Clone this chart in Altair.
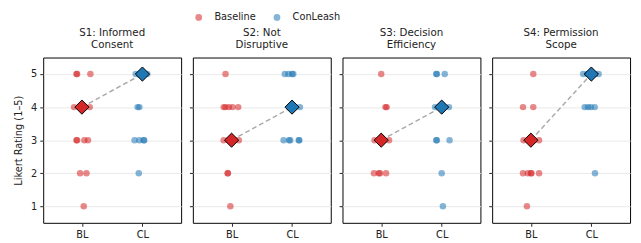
import altair as alt
import pandas as pd

groups = ["Baseline", "ConLeash"]
colors = ["#d62728", "#1f77b4"]
titles = [["S1: Informed", "Consent"], ["S2: Not", "Disruptive"],
          ["S3: Decision", "Efficiency"], ["S4: Permission", "Scope"]]

# ratings and horizontal jitter
s1_bl_r = [5, 5, 5, 4, 4, 4, 4, 3, 3, 3, 3, 2, 2, 1]
s1_bl_j = [-0.09, -0.08, 0.14, -0.13, -0.04, 0.05, 0.13, -0.09, -0.08, 0.04, 0.10, -0.03, 0.075, 0.03]
s1_cl_r = [5, 5, 5, 5, 5, 5, 4, 4, 3, 3, 3, 3, 2]
s1_cl_j = [-0.11, -0.05, 0.0, 0.04, 0.08, -0.02, -0.08, -0.05, -0.13, -0.05, 0.02, 0.03, -0.06]

s2_bl_r = [5, 4, 4, 4, 4, 4, 3, 3, 3, 3, 2, 2, 1]
s2_bl_j = [-0.10, -0.13, -0.10, -0.045, 0.015, 0.11, -0.13, -0.05, 0.05, 0.12, -0.065, -0.06, -0.02]
s2_cl_r = [5, 5, 5, 5, 4, 4, 4, 3, 3, 3, 3, 3]
s2_cl_j = [-0.12, -0.06, 0.0, 0.02, 0.0, 0.05, 0.13, -0.14, -0.05, -0.03, 0.11, 0.12]

s3_bl_r = [5, 4, 4, 3, 3, 3, 3, 2, 2, 2, 2]
s3_bl_j = [0.0, 0.07, 0.09, -0.11, -0.04, 0.04, 0.13, -0.12, -0.04, -0.02, 0.08]
s3_cl_r = [5, 5, 5, 4, 4, 4, 4, 3, 3, 3, 2, 1]
s3_cl_j = [-0.09, -0.08, 0.05, -0.11, -0.03, 0.03, 0.12, -0.09, -0.08, 0.13, 0.0, 0.02]

s4_bl_r = [5, 4, 4, 3, 3, 3, 3, 2, 2, 2, 2, 2, 1]
s4_bl_j = [0.04, -0.13, 0.04, -0.12, -0.04, 0.05, 0.135, -0.13, -0.05, 0.0, 0.01, 0.135, -0.065]
s4_cl_r = [5, 5, 5, 5, 5, 5, 4, 4, 4, 4, 2]
s4_cl_j = [-0.135, -0.065, -0.02, 0.03, 0.06, 0.12, -0.11, -0.055, -0.01, 0.055, 0.06]

median_bl = [4, 3, 3, 3]
median_cl = [5, 4, 4, 5]

raw = [
    (s1_bl_r, s1_bl_j, s1_cl_r, s1_cl_j),
    (s2_bl_r, s2_bl_j, s2_cl_r, s2_cl_j),
    (s3_bl_r, s3_bl_j, s3_cl_r, s3_cl_j),
    (s4_bl_r, s4_bl_j, s4_cl_r, s4_cl_j),
]

FONT = "DejaVu Sans"
FS = 10
xscale = alt.Scale(domain=[-0.64, 1.64], nice=False, zero=False)
yscale = alt.Scale(domain=[0.5, 5.5], nice=False, zero=False)


def make_panel(i):
    blr, blj, clr, clj = raw[i]
    rows = []
    for r, j in zip(blr, blj):
        rows.append({"group": "Baseline", "x": 0 + j, "rating": r})
    for r, j in zip(clr, clj):
        rows.append({"group": "ConLeash", "x": 1 + j, "rating": r})
    pts_df = pd.DataFrame(rows)
    med_df = pd.DataFrame({"group": groups, "x": [0, 1],
                           "rating": [median_bl[i], median_cl[i]]})

    first = i == 0
    xaxis = alt.Axis(values=[0, 1], labelExpr="datum.value == 0 ? 'BL' : 'CL'",
                     title=None, grid=False, domain=False, tickSize=3.5,
                     labelPadding=3, labelFontSize=FS, labelFont=FONT,
                     labelColor="#222222", tickColor="#222222")
    yaxis = alt.Axis(values=[1, 2, 3, 4, 5], format="d", grid=True,
                     gridColor="#e8e8e8", gridWidth=1, domain=False,
                     tickSize=3.5, labelPadding=3, labelFontSize=FS, labelFont=FONT,
                     labelColor="#222222", tickColor="#222222",
                     labels=first,
                     title="Likert Rating (1–5)" if first else None,
                     titleFontSize=FS, titleFont=FONT, titleFontWeight="normal",
                     titleColor="#222222", titlePadding=7)

    pts = alt.Chart(pts_df).mark_circle(size=44, opacity=0.55).encode(
        x=alt.X("x:Q", scale=xscale, axis=xaxis),
        y=alt.Y("rating:Q", scale=yscale, axis=yaxis),
        color=alt.Color("group:N", scale=alt.Scale(domain=groups, range=colors),
                        legend=alt.Legend(title=None, orient="none", direction="horizontal",
                                          legendX=154, legendY=-46,
                                          symbolType="circle", symbolSize=48,
                                          symbolOpacity=0.55, symbolStrokeWidth=0,
                                          labelFontSize=10, labelFont=FONT,
                                          labelColor="#222222", labelOffset=11,
                                          columnPadding=16)),
    )
    line = alt.Chart(med_df).mark_line(color="#aaaaaa", strokeDash=[5, 3],
                                       strokeWidth=1.5).encode(
        x=alt.X("x:Q", scale=xscale), y=alt.Y("rating:Q", scale=yscale))
    dia = alt.Chart(med_df).mark_point(shape="diamond", filled=True, size=210,
                                       stroke="black", strokeWidth=1,
                                       opacity=1).encode(
        x=alt.X("x:Q", scale=xscale), y=alt.Y("rating:Q", scale=yscale),
        fill=alt.Fill("group:N", scale=alt.Scale(domain=groups, range=colors),
                      legend=None),
    )
    return alt.layer(pts, line, dia).properties(
        width=141, height=169,
        title=alt.TitleParams(text=titles[i], fontSize=10.5, font=FONT,
                              fontWeight="normal", color="#222222",
                              anchor="middle", offset=7, lineHeight=12.5),
    )


chart = alt.hconcat(*[make_panel(i) for i in range(4)], spacing=6).configure_view(
    stroke="black", strokeWidth=1
).properties(padding={"left": 5, "top": 2, "right": 2, "bottom": 2})

chart.save("out.html", embed_options={"renderer": "svg", "actions": False})
